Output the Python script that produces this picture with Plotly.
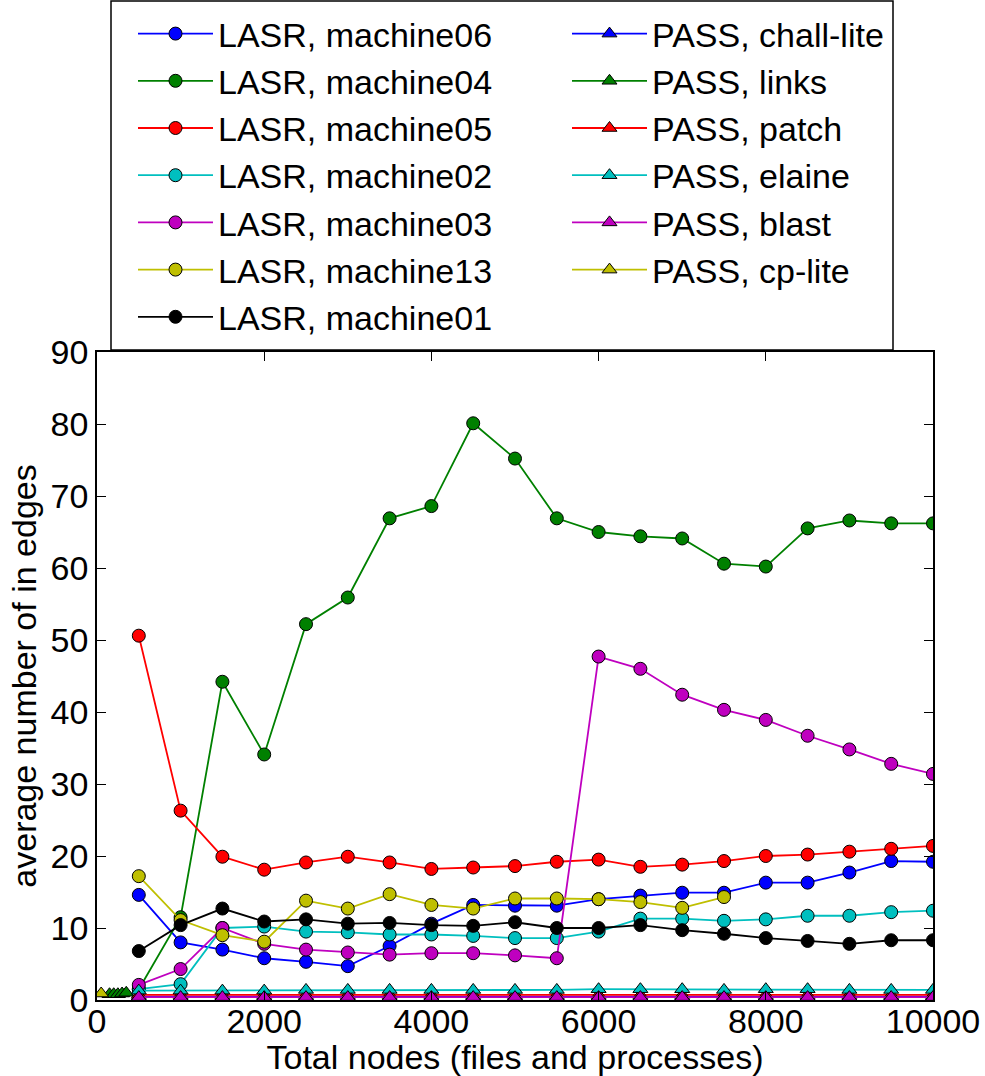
import plotly.graph_objects as go

x_lasr = [500, 1000, 1500, 2000, 2500, 3000, 3500, 4000, 4500, 5000, 5500,
          6000, 6500, 7000, 7500, 8000, 8500, 9000, 9500, 10000]

lasr_machine06 = [14.6, 8.0, 7.0, 5.8, 5.3, 4.7, 7.5, 10.6, 13.2, 13.1, 13.1,
                  14.0, 14.5, 14.9, 14.9, 16.3, 16.3, 17.7, 19.3, 19.2]
lasr_machine04 = [1.5, 11.5, 44.2, 34.1, 52.2, 55.9, 66.9, 68.6, 80.1, 75.2, 66.9,
                  65.0, 64.4, 64.1, 60.6, 60.2, 65.5, 66.6, 66.2, 66.2]
lasr_machine05 = [50.6, 26.3, 19.9, 18.1, 19.1, 19.9, 19.1, 18.2, 18.4, 18.6, 19.2,
                  19.5, 18.5, 18.8, 19.3, 20.0, 20.2, 20.6, 21.0, 21.4]
lasr_machine02 = [1.5, 2.2, 10.0, 10.2, 9.5, 9.4, 9.1, 9.1, 8.9, 8.6, 8.6,
                  9.5, 11.3, 11.3, 11.0, 11.2, 11.7, 11.7, 12.2, 12.4]
lasr_machine03 = [2.1, 4.3, 10.0, 7.8, 7.0, 6.6, 6.3, 6.5, 6.5, 6.2, 5.8,
                  47.7, 46.0, 42.4, 40.3, 38.9, 36.7, 34.8, 32.8, 31.4]
x_machine13 = [500, 1000, 1500, 2000, 2500, 3000, 3500, 4000, 4500, 5000, 5500,
               6000, 6500, 7000, 7500]
lasr_machine13 = [17.2, 11.1, 9.0, 8.1, 13.8, 12.7, 14.7, 13.2, 12.7, 14.1, 14.1,
                  14.0, 13.6, 12.8, 14.3]
lasr_machine01 = [6.8, 10.4, 12.7, 10.9, 11.2, 10.6, 10.7, 10.4, 10.3, 10.8, 10.0,
                  10.0, 10.4, 9.7, 9.2, 8.6, 8.2, 7.8, 8.3, 8.3]

x_pass = x_lasr
pass_chall_lite = [0.45] * 20
x_links = [150, 200, 250, 300, 350]
pass_links = [0.8, 0.8, 0.8, 0.9, 1.0]
pass_patch = [0.7] * 20
pass_elaine = [1.3, 1.3, 1.3, 1.3, 1.4, 1.4, 1.4, 1.4, 1.4, 1.4, 1.4,
               1.5, 1.5, 1.5, 1.4, 1.5, 1.5, 1.4, 1.4, 1.4]
pass_blast = [0.4] * 20
x_cp_lite = [50]
pass_cp_lite = [0.9]

x_ticks = [0, 2000, 4000, 6000, 8000, 10000]
y_ticks = [0, 10, 20, 30, 40, 50, 60, 70, 80, 90]

C = {"b": "#0000ff", "g": "#008000", "r": "#ff0000", "c": "#00bfbf",
     "m": "#bf00bf", "y": "#bfbf00", "k": "#000000"}

lasr = [
    ("LASR, machine06", x_lasr, lasr_machine06, "b"),
    ("LASR, machine04", x_lasr, lasr_machine04, "g"),
    ("LASR, machine05", x_lasr, lasr_machine05, "r"),
    ("LASR, machine02", x_lasr, lasr_machine02, "c"),
    ("LASR, machine03", x_lasr, lasr_machine03, "m"),
    ("LASR, machine13", x_machine13, lasr_machine13, "y"),
    ("LASR, machine01", x_lasr, lasr_machine01, "k"),
]
pas = [
    ("PASS, chall-lite", x_pass, pass_chall_lite, "b"),
    ("PASS, links", x_links, pass_links, "g"),
    ("PASS, patch", x_pass, pass_patch, "r"),
    ("PASS, elaine", x_pass, pass_elaine, "c"),
    ("PASS, blast", x_pass, pass_blast, "m"),
    ("PASS, cp-lite", x_cp_lite, pass_cp_lite, "y"),
]

FONT = "Liberation Sans, Arial, Helvetica, sans-serif"
FS = 34
fig = go.Figure()
for name, xs, ys, c in lasr:
    fig.add_trace(go.Scatter(
        x=xs, y=ys, name=name, mode="lines+markers", legend="legend",
        line=dict(color=C[c], width=1.8),
        marker=dict(symbol="circle", size=13, color=C[c],
                    line=dict(color="black", width=1))))
for name, xs, ys, c in pas:
    fig.add_trace(go.Scatter(
        x=xs, y=ys, name=name, mode="lines+markers", legend="legend2",
        line=dict(color=C[c], width=1.8),
        marker=dict(symbol="triangle-up", size=13, color=C[c],
                    line=dict(color="black", width=1))))

axis_common = dict(
    showline=True, linecolor="black", linewidth=1.5, mirror="ticks",
    ticks="inside", ticklen=9, tickwidth=1.2, tickcolor="black",
    showgrid=False, zeroline=False, automargin=False,
    tickfont=dict(family=FONT, size=FS, color="black"),
)
fig.update_xaxes(range=[0, 10000], tickvals=x_ticks,
                 ticktext=[str(v) for v in x_ticks],
                 ticklabelstandoff=-10,
                 title=dict(text="Total nodes (files and processes)",
                            font=dict(family=FONT, size=FS, color="black"),
                            standoff=0),
                 **axis_common)
fig.update_yaxes(range=[0, 90], tickvals=y_ticks,
                 ticktext=[str(v) for v in y_ticks],
                 title=dict(text="average number of in edges",
                            font=dict(family=FONT, size=FS, color="black"),
                            standoff=4),
                 **axis_common)

PW, PH, ML, MB, MT = 836, 648, 97, 76, 352
def px_x(p):
    return (p - ML) / PW
def px_y(p):
    return (1076 - MB - p) / PH

leg_common = dict(
    orientation="v", xanchor="left", yanchor="top",
    itemwidth=75, bgcolor="rgba(0,0,0,0)", borderwidth=0,
    font=dict(family=FONT, size=FS, color="black"),
    traceorder="normal", tracegroupgap=0,
)

fig.update_layout(
    width=985, height=1076,
    margin=dict(l=ML, r=985 - ML - PW, t=MT, b=MB, autoexpand=False),
    paper_bgcolor="white", plot_bgcolor="white",
    font=dict(family=FONT, size=FS, color="black"),
    showlegend=True,
    legend=dict(x=px_x(133), y=px_y(5), **leg_common),
    legend2=dict(x=px_x(567), y=px_y(5), **leg_common),
    shapes=[dict(type="rect", xref="paper", yref="paper",
                 x0=px_x(111), x1=px_x(893), y0=px_y(350), y1=px_y(1),
                 line=dict(color="black", width=1.5),
                 fillcolor="rgba(0,0,0,0)", layer="above")],
)

fig.write_html("out.html")
